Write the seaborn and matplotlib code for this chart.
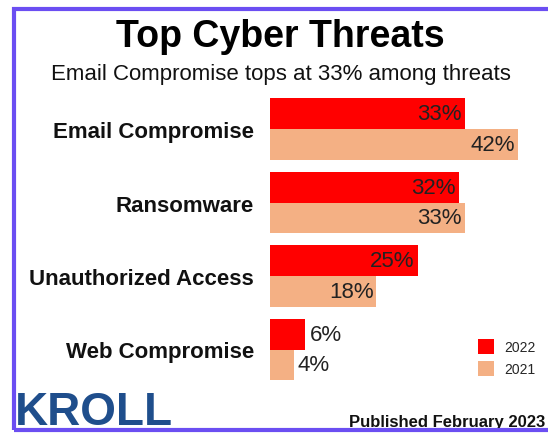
import matplotlib
matplotlib.use("Agg")
import matplotlib.pyplot as plt
from matplotlib.patches import Rectangle
import pandas as pd
import seaborn as sns

# Daten aus dem Bild
threats = ["Email Compromise", "Ransomware", "Unauthorized Access", "Web Compromise"]
years = ["2022", "2021"]
share_2022 = [33, 32, 25, 6]
share_2021 = [42, 33, 18, 4]
colors = {"2022": "#ff0000", "2021": "#f4b084"}

df = pd.DataFrame({
    "Threat": threats * 2,
    "Year": ["2022"] * len(threats) + ["2021"] * len(threats),
    "Share": share_2022 + share_2021,
})

sns.set_style("white")
plt.rcParams["font.family"] = ["Liberation Sans", "DejaVu Sans"]

fig = plt.figure(figsize=(5.48, 4.35), dpi=100)
ax = fig.add_axes([270 / 548, 1 - 387.25 / 435, 265.5 / 548, 294 / 435])

sns.barplot(data=df, y="Threat", x="Share", hue="Year", hue_order=years,
            order=threats, palette=colors, orient="h", width=0.843,
            saturation=1, linewidth=0, ax=ax)

ax.set_xlim(0, 45)
ax.set_ylim(3.5, -0.5)
ax.set_xlabel("")
ax.set_ylabel("")
ax.set_xticks([])
sns.despine(ax=ax, left=True, bottom=True)
ax.tick_params(axis="y", length=0, pad=11.5)
for lbl in ax.get_yticklabels():
    lbl.set_fontsize(16)
    lbl.set_fontweight("bold")
    lbl.set_color("#111111")

# Werte an die Balken schreiben
for cont in ax.containers:
    for bar in cont:
        w = bar.get_width()
        yc = bar.get_y() + bar.get_height() / 2
        if w > 10:
            ax.annotate(f"{w:.0f}%", xy=(w, yc), xytext=(-2, 0), textcoords="offset points",
                        ha="right", va="center", fontsize=16, color="#222222")
        else:
            ax.annotate(f"{w:.0f}%", xy=(w, yc), xytext=(3, 0), textcoords="offset points",
                        ha="left", va="center", fontsize=16, color="#222222")

# Legende
handles, labels = ax.get_legend_handles_labels()
ax.get_legend().remove()
fig.legend(handles, labels, loc="upper left", bbox_to_anchor=(478 / 548, 1 - 340 / 435),
           frameon=False, fontsize=10, borderpad=0, borderaxespad=0,
           handlelength=1.15, handleheight=1.3, handletextpad=0.72, labelspacing=0.5)

# Texte
fig.text(0.511, 1 - 47 / 435, "Top Cyber Threats", ha="center", va="baseline",
         fontsize=27, fontweight="bold", color="#000000")
fig.text(0.513, 1 - 80 / 435, "Email Compromise tops at 33% among threats", ha="center",
         va="baseline", fontsize=16, color="#111111")
fig.text(545 / 548, 1 - 427 / 435, "Published February 2023", ha="right", va="baseline",
         fontsize=12, fontweight="bold", color="#111111")
fig.text(15 / 548, 1 - 425 / 435, "KROLL", ha="left", va="baseline",
         fontsize=33, fontweight="bold", color="#1f4e8c")

# Rahmen
fig.patches.append(Rectangle((14 / 548, 1 - 431 / 435), 1.0, (431 - 9.5) / 435,
                             transform=fig.transFigure, fill=False,
                             edgecolor="#6b4ef2", linewidth=3, zorder=10))

fig.savefig("out.png", dpi=100)
